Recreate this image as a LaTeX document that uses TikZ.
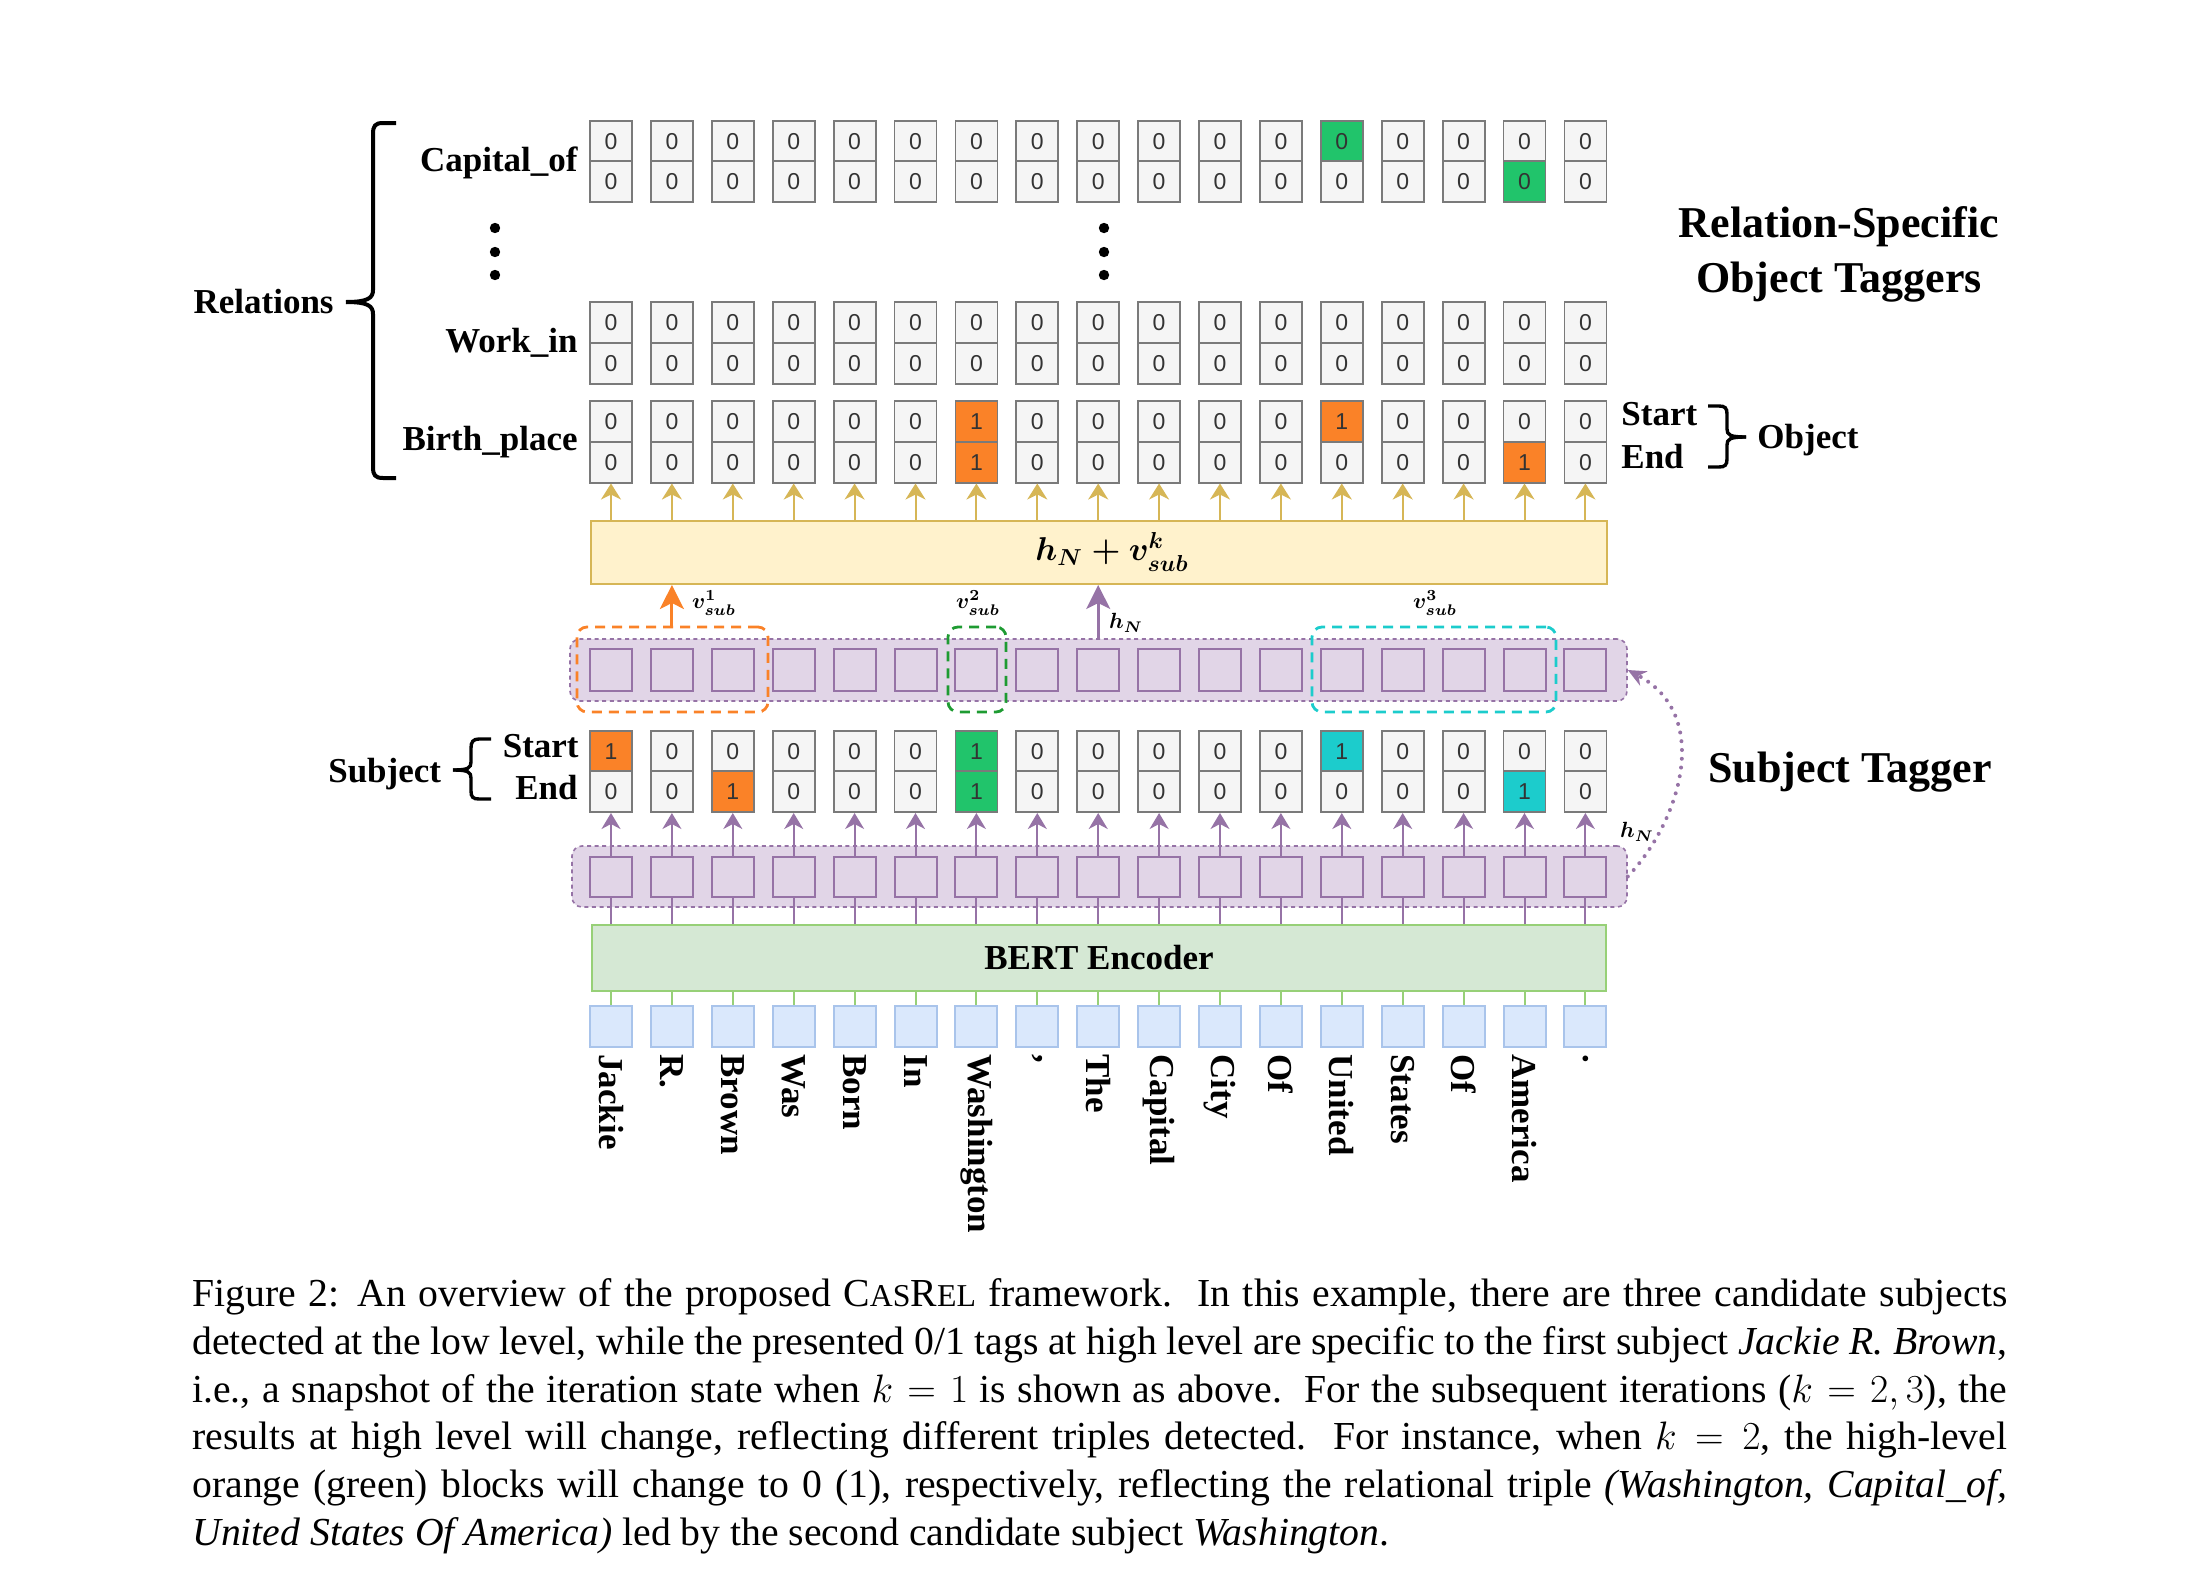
\RequirePackage{fix-cm}
\documentclass[tikz,border=0pt]{standalone}
\usepackage{amsmath}
\usepackage{amssymb}
\usepackage{fontspec}
\setmainfont{Liberation Serif}
\newfontfamily\digitfont{Liberation Sans}
\usepackage{tikz}
\usetikzlibrary{arrows.meta}

\definecolor{cw}{HTML}{F5F5F5}
\definecolor{co}{HTML}{FA8228}
\definecolor{cg}{HTML}{21C46B}
\definecolor{ct}{HTML}{1CCCCC}
\definecolor{cellline}{HTML}{7A7A7A}
\definecolor{celltext}{HTML}{333333}
\definecolor{purfill}{HTML}{E1D5E7}
\definecolor{purline}{HTML}{9673A6}
\definecolor{yelfill}{HTML}{FFF2CC}
\definecolor{yelline}{HTML}{D6B656}
\definecolor{grnfill}{HTML}{D5E8D4}
\definecolor{grnline}{HTML}{97D077}
\definecolor{blufill}{HTML}{DAE8FC}
\definecolor{bluline}{HTML}{A9C4EB}
\definecolor{dashgreen}{HTML}{1E9B32}

\newcommand\fakesc[1]{{\fontsize{15.9}{23.83}\selectfont #1}}

\begin{document}
\begin{tikzpicture}[x=0.5pt,y=-0.5pt,
    cell/.style={draw=cellline, line width=0.9pt, minimum width=21pt, minimum height=20.4pt, inner sep=0pt, text=celltext, font=\digitfont\fontsize{11.5}{13}\selectfont},
    hsq/.style={draw=purline, fill=purfill, line width=1pt, minimum width=21pt, minimum height=20.5pt, inner sep=0pt},
    tok/.style={draw=bluline, fill=blufill, line width=1pt, minimum width=21pt, minimum height=20.5pt, inner sep=0pt},
    layer/.style={draw=purline, fill=purfill, line width=0.8pt, dash pattern=on 2pt off 1.8pt, rounded corners=5pt, inner sep=0pt},
    selbox/.style={line width=1.4pt, dash pattern=on 5pt off 3.5pt, rounded corners=5pt, minimum height=42.5pt, inner sep=0pt},
    lbl/.style={font=\fontsize{17.5}{21}\selectfont\bfseries, inner sep=0pt},
    word/.style={lbl, rotate=-90, anchor=west},
    title/.style={font=\fontsize{22}{27.5}\selectfont\bfseries, inner sep=0pt, align=center},
    mathlbl/.style={font=\fontsize{11}{13}\selectfont\boldmath, inner sep=0pt},
    brace/.style={line width=2pt},
    goldarr/.style={draw=yelline, line width=1pt, -{Stealth[length=8pt,width=10pt,inset=2.5pt]}},
    purarr/.style={draw=purline, line width=1pt, -{Stealth[length=8pt,width=9.5pt,inset=2.5pt]}},
    purln/.style={draw=purline, line width=1pt},
    grnln/.style={draw=grnline, line width=1pt},
    hnarc/.style={draw=purline, line width=2pt, line cap=round, dash pattern=on 0pt off 4.4pt, -{Stealth[length=9pt,width=8pt]}},
    caption/.style={text width=907.5pt, align=justify, inner sep=0pt, font=\fontsize{19.85}{23.83}\selectfont}
  ]
  \useasboundingbox (0,0) rectangle (2192,1580);

  %Shape: Rectangle [fusion of h_N and v_sub]
  \node[draw=yelline, fill=yelfill, line width=1pt, inner sep=0pt, minimum width=508pt, minimum height=31.5pt] (fuse) at (1099,552.5) {};
  % Text Node
  \node[font=\fontsize{16.5}{19}\selectfont\boldmath, inner sep=0pt] (fuselbl) at (1112,552) {$h_N + v^k_{sub}$};

  %Shape: Rectangle [BERT]
  \node[lbl, draw=grnline, fill=grnfill, line width=1pt, minimum width=507pt, minimum height=33pt] (bert) at (1099,958) {BERT Encoder};

  %Shape: Rectangle [upper and lower hidden layers]
  \node[layer, minimum width=528.5pt, minimum height=31pt] (hup) at (1098.5,670) {};
  \node[layer, minimum width=527.5pt, minimum height=30.5pt] (hlow) at (1099.5,876.5) {};

  % Capital_of tags
  \foreach \i/\sv/\sf/\ev/\ef in {1/0/cw/0/cw, 2/0/cw/0/cw, 3/0/cw/0/cw, 4/0/cw/0/cw, 5/0/cw/0/cw, 6/0/cw/0/cw, 7/0/cw/0/cw, 8/0/cw/0/cw, 9/0/cw/0/cw, 10/0/cw/0/cw, 11/0/cw/0/cw, 12/0/cw/0/cw, 13/0/cg/0/cw, 14/0/cw/0/cw, 15/0/cw/0/cw, 16/0/cw/0/cg, 17/0/cw/0/cw}{
    \node[cell, fill=\sf] (cap-s-\i) at ({611+60.9*(\i-1)},141.1) {\sv};
    \node[cell, fill=\ef] (cap-e-\i) at ({611+60.9*(\i-1)},181.7) {\ev};
  }
  % Work_in tags
  \foreach \i in {1,...,17}{
    \node[cell, fill=cw] (wk-s-\i) at ({611+60.9*(\i-1)},322.3) {0};
    \node[cell, fill=cw] (wk-e-\i) at ({611+60.9*(\i-1)},363.2) {0};
  }
  % Birth_place tags
  \foreach \i/\sv/\sf/\ev/\ef in {1/0/cw/0/cw, 2/0/cw/0/cw, 3/0/cw/0/cw, 4/0/cw/0/cw, 5/0/cw/0/cw, 6/0/cw/0/cw, 7/1/co/1/co, 8/0/cw/0/cw, 9/0/cw/0/cw, 10/0/cw/0/cw, 11/0/cw/0/cw, 12/0/cw/0/cw, 13/1/co/0/cw, 14/0/cw/0/cw, 15/0/cw/0/cw, 16/0/cw/1/co, 17/0/cw/0/cw}{
    \node[cell, fill=\sf] (bp-s-\i) at ({611+60.9*(\i-1)},421.4) {\sv};
    \node[cell, fill=\ef] (bp-e-\i) at ({611+60.9*(\i-1)},462.2) {\ev};
  }
  % Subject tags
  \foreach \i/\sv/\sf/\ev/\ef in {1/1/co/0/cw, 2/0/cw/0/cw, 3/0/cw/1/co, 4/0/cw/0/cw, 5/0/cw/0/cw, 6/0/cw/0/cw, 7/1/cg/1/cg, 8/0/cw/0/cw, 9/0/cw/0/cw, 10/0/cw/0/cw, 11/0/cw/0/cw, 12/0/cw/0/cw, 13/1/ct/0/cw, 14/0/cw/0/cw, 15/0/cw/0/cw, 16/0/cw/1/ct, 17/0/cw/0/cw}{
    \node[cell, fill=\sf] (sj-s-\i) at ({611+60.9*(\i-1)},751.1) {\sv};
    \node[cell, fill=\ef] (sj-e-\i) at ({611+60.9*(\i-1)},791.7) {\ev};
  }

  % hidden states, tokens and their links
  \foreach \i/\w in {1/Jackie, 2/R., 3/Brown, 4/Was, 5/Born, 6/In, 7/Washington, 8/{,}, 9/The, 10/Capital, 11/City, 12/Of, 13/United, 14/States, 15/Of, 16/America, 17/.}{
    \node[hsq, minimum height=20.8pt] (hu-\i) at ({611+60.9*(\i-1)},670) {};
    \node[hsq, minimum height=20pt] (hl-\i) at ({611+60.9*(\i-1)},877) {};
    \node[tok] (tok-\i) at ({611+60.9*(\i-1)},1026.5) {};
    \node[word] (w-\i) at ([yshift=-3pt]tok-\i.south) {\w};
    \draw[grnln] (bert.south -| tok-\i) -- (tok-\i.north);
    \draw[purln] (bert.north -| hl-\i) -- (hl-\i.south);
    \draw[purarr] (hl-\i.north) -- (sj-e-\i.south);
    \draw[goldarr] (fuse.north -| bp-e-\i) -- (bp-e-\i.south);
  }

  %Shape: Rectangle [candidate subjects]
  \node[selbox, draw=co, minimum width=95.5pt] (sel1) at (672.5,669.5) {};
  \node[selbox, draw=dashgreen, minimum width=29pt] (sel2) at (977,669.5) {};
  \node[selbox, draw=ct, minimum width=122pt] (sel3) at (1434,669.5) {};

  %Straight Lines [v_sub^1 and h_N into the fusion box]
  \draw[draw=co, line width=1.5pt, -{Stealth[length=12pt,width=12pt,inset=3pt]}] (sel1.north -| hu-2) -- (fuse.south -| hu-2);
  \draw[draw=purline, line width=1.3pt, -{Stealth[length=12pt,width=12pt,inset=3pt]}] (hup.north -| hu-9) -- (fuse.south -| hu-9);
  % Text Node
  \node[mathlbl] (v1) at (714,603) {$v^1_{sub}$};
  \node[mathlbl] (v2) at (978,603) {$v^2_{sub}$};
  \node[mathlbl] (v3) at (1435,603) {$v^3_{sub}$};
  \node[mathlbl] (hn1) at (1126,623) {$h_N$};

  %Curve [h_N fed back]
  \draw[hnarc] (hlow.east) .. controls +(53,-56) and +(85,45) .. (hup.east);
  \node[mathlbl] (hn2) at (1637,832) {$h_N$};

  % Text Node
  \node[lbl, anchor=base east] (capof) at (578,171) {Capital\_of};
  \node[lbl, anchor=base east] (workin) at (578,352) {Work\_in};
  \node[lbl, anchor=base east] (birth) at (578,450) {Birth\_place};
  \node[lbl, anchor=base east] (rel) at (334,313) {Relations};
  \node[lbl, anchor=base east] (sjstart) at (579,757) {Start};
  \node[lbl, anchor=base east] (sjend) at (578,799) {End};
  \node[lbl, anchor=base east] (subj) at (441.5,782) {Subject};
  \node[lbl, anchor=base west] (obstart) at (1621,425) {Start};
  \node[lbl, anchor=base west] (obend) at (1621,468) {End};
  \node[lbl, anchor=base west] (obj) at (1757,448) {Object};
  \node[title] (rsot) at (1839,254.5) {Relation-Specific\\Object Taggers};
  \node[title, anchor=base] (sjt) at (1850,782) {Subject Tagger};

  %Shape: Dots
  \foreach \y in {228,252,275}{
    \fill (495,\y) circle[radius=2.6pt];
    \fill (1104,\y) circle[radius=2.6pt];
  }

  %Shape: Braces
  \draw[brace] (396,123) -- (383,123) .. controls (375,123) and (373,126) .. (373,134) -- (373,290) .. controls (373,298) and (368,302) .. (346,302);
  \draw[brace] (346,302) .. controls (368,302) and (373,306) .. (373,314) -- (373,467) .. controls (373,475) and (375,478) .. (383,478) -- (396,478);
  \draw[line width=1.7pt] (491,739) -- (479,739) .. controls (473,739) and (471,742) .. (471,748) -- (471,762) .. controls (471,768) and (468,770) .. (453,770);
  \draw[line width=1.7pt] (453,770) .. controls (468,770) and (471,772) .. (471,778) -- (471,791) .. controls (471,797) and (473,799) .. (479,799) -- (491,799);
  \draw[line width=1.7pt] (1708,406) -- (1719,406) .. controls (1725,406) and (1727,408) .. (1727,414) -- (1727,429) .. controls (1727,435) and (1730,437) .. (1746,437);
  \draw[line width=1.7pt] (1746,437) .. controls (1730,437) and (1727,439) .. (1727,445) -- (1727,459) .. controls (1727,465) and (1725,467) .. (1719,467) -- (1708,467);

  % Text Node [caption]
  \node[caption, anchor=base west] (cap) at (192,1306.7) {\hyphenpenalty=10000 \tolerance=9999 \emergencystretch=20pt
    Figure 2: An overview of the proposed C\fakesc{AS}R\fakesc{EL} framework.\ \ In this example, there are three candidate subjects\linebreak
    detected at the low level, while the presented 0/1 tags at high level are specific to the first subject \textit{Jackie R. Brown},\linebreak
    i.e., a snapshot of the iteration state when $k=1$ is shown as above.\ \ For the subsequent iterations ($k=2,3$), the\linebreak
    results at high level will change, reflecting different triples detected.\ \ For instance, when $k=2$, the high-level\linebreak
    orange (green) blocks will change to 0 (1), respectively, reflecting the relational triple \textit{(Washington, Capital\_of,}\linebreak
    \textit{United States Of America)} led by the second candidate subject \textit{Washington}.};
\end{tikzpicture}
\end{document}
